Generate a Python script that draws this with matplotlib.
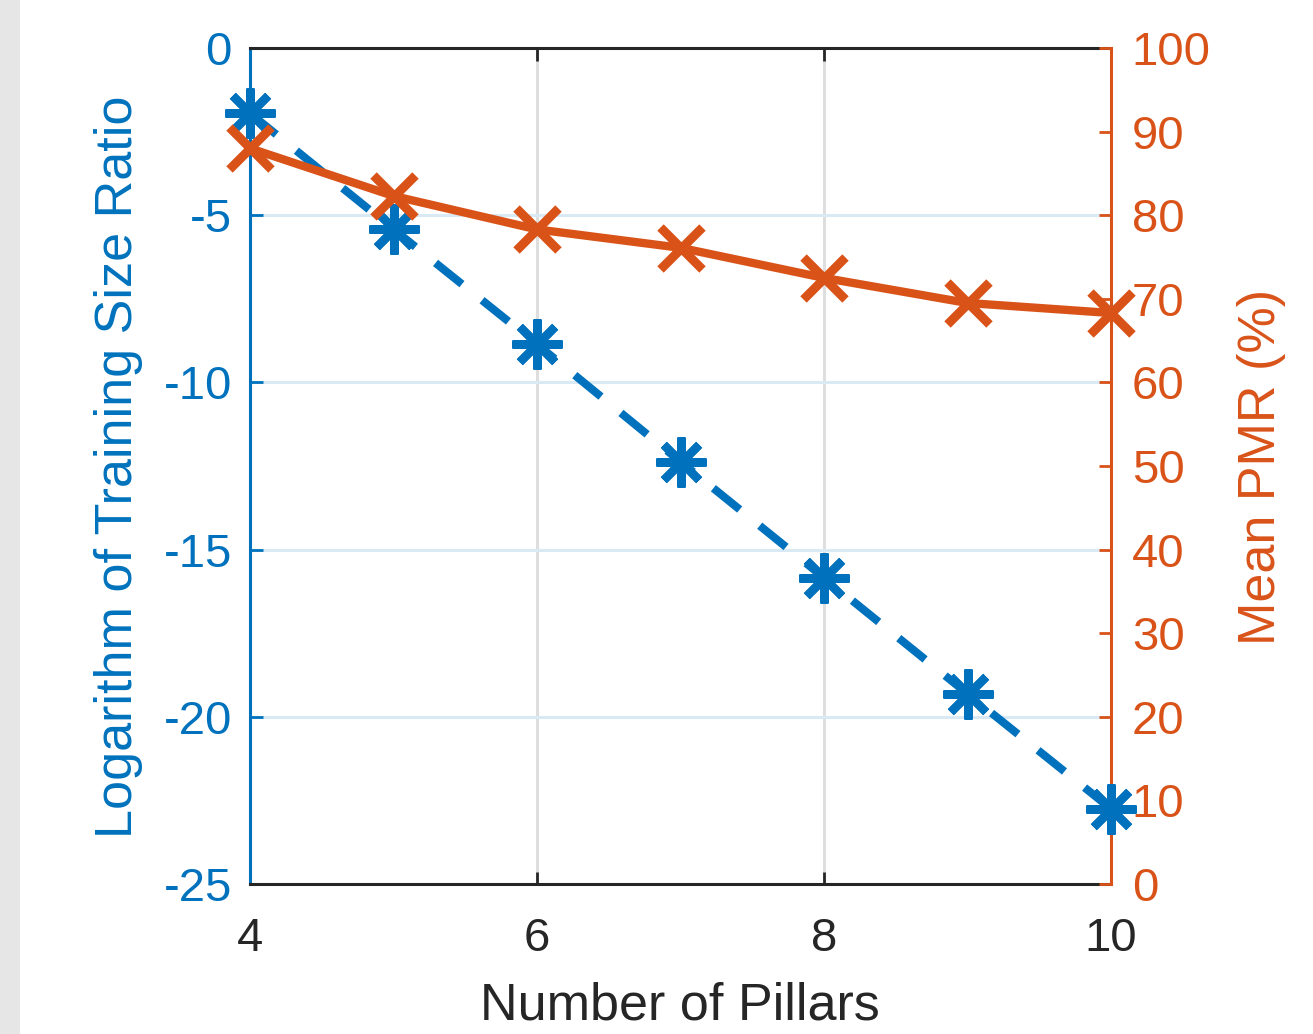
import numpy as np
import matplotlib.pyplot as plt
from matplotlib.patches import Rectangle

plt.rcParams['font.family'] = ['Liberation Sans', 'DejaVu Sans']
plt.rcParams['axes.unicode_minus'] = False

# values
pillars = [4, 5, 6, 7, 8, 9, 10]
log_ratio = [-1.95, -5.42, -8.86, -12.37, -15.84, -19.31, -22.75]
mean_pmr = [88.0, 82.3, 78.3, 76.1, 72.5, 69.5, 68.3]

x_ticks = [4, 6, 8, 10]
left_ticks = [0, -5, -10, -15, -20, -25]
right_ticks = list(range(0, 101, 10))

blue = '#0072BD'
orange = '#D95319'
dark = '#262626'

fig = plt.figure(figsize=(13.13, 10.34), dpi=100)
# grey strip at the left edge of the screenshot
fig.patches.append(Rectangle((0, 0), 20 / 1313, 1, transform=fig.transFigure,
                             facecolor='#E6E6E6', edgecolor='none'))

ax = fig.add_axes([250 / 1313, 1 - 884 / 1034, 861 / 1313, 836 / 1034])
ax2 = ax.twinx()

ax.set_xlim(4, 10)
ax.set_ylim(-25, 0)
ax2.set_ylim(0, 100)

# grid: grey vertical, light blue horizontal (left axis)
ax.set_xticks(x_ticks)
ax.set_yticks(left_ticks)
ax.xaxis.grid(True, color='#DEDEDE', linewidth=2.2)
ax.yaxis.grid(True, color='#D9EAF5', linewidth=2.2)
ax.set_axisbelow(True)

# both series are drawn in the top axes so they sit above spines and labels
ax2.plot(pillars, log_ratio, transform=ax.transData, color=blue, linewidth=5.8,
         linestyle=(0, (4.2, 3.2)), dash_capstyle='butt',
         marker=(8, 2, 0), markersize=36, markeredgewidth=6,
         clip_on=False, zorder=3)
ax2.plot(pillars, mean_pmr, color=orange, linewidth=6,
         marker='x', markersize=30, markeredgewidth=6.5,
         clip_on=False, zorder=4)

ax2.set_yticks(right_ticks)

for s in ['top', 'bottom']:
    ax.spines[s].set_color(dark)
    ax.spines[s].set_linewidth(2.2)
    ax2.spines[s].set_visible(False)
ax.spines['left'].set_color(blue)
ax.spines['left'].set_linewidth(2.2)
ax.spines['right'].set_visible(False)
ax2.spines['left'].set_visible(False)
ax2.spines['right'].set_color(orange)
ax2.spines['right'].set_linewidth(2.2)

ax.tick_params(axis='x', direction='in', top=True, bottom=True, length=9, width=2,
               color=dark, labelcolor=dark, labelsize=34, pad=24)
ax.tick_params(axis='y', direction='in', left=True, right=False, length=9, width=2,
               color=blue, labelcolor=blue, labelsize=34, pad=13)
ax2.tick_params(axis='y', direction='in', right=True, left=False, length=9, width=2,
                color=orange, labelcolor=orange, labelsize=34, pad=15)
ax2.tick_params(axis='x', which='both', top=False, bottom=False,
                labeltop=False, labelbottom=False)

ax.set_xlabel('Number of Pillars', fontsize=37.5, color=dark)
ax.set_ylabel('Logarithm of Training Size Ratio', fontsize=37.5, color=blue)
ax2.set_ylabel('Mean PMR (%)', fontsize=37.5, color=orange)

ax.xaxis.set_label_coords((680 - 250) / 861, (884 - 1006) / 836)
ax.xaxis.label.set_verticalalignment('center')
ax.yaxis.set_label_coords((119 - 250) / 861, (884 - 467) / 836)
ax.yaxis.label.set_verticalalignment('center')
ax2.yaxis.set_label_coords((1261 - 250) / 861, (884 - 467) / 836)
ax2.yaxis.label.set_verticalalignment('center')
ax2.yaxis.label.set_rotation(90)

fig.savefig('out.png', dpi=100)
